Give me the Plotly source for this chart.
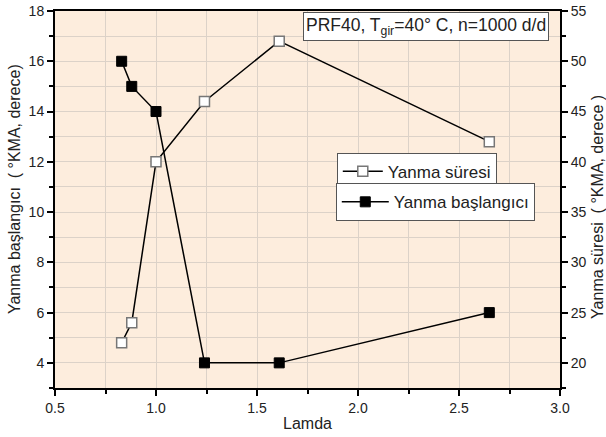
import plotly.graph_objects as go

lamda_sure = [0.83, 0.88, 1.0, 1.24, 1.61, 2.65]
yanma_suresi = [22, 24, 40, 46, 52, 42]
lamda_bas = [0.83, 0.88, 1.0, 1.24, 1.61, 2.65]
yanma_baslangici = [16, 15, 14, 4, 4, 6]

x_ticks = [0.5, 1.0, 1.5, 2.0, 2.5, 3.0]
x_ticklabels = ["0.5", "1.0", "1.5", "2.0", "2.5", "3.0"]

FONT = "Liberation Sans, Arial, sans-serif"
TXT = "#222"

fig = go.Figure()
fig.add_trace(go.Scatter(
    x=lamda_sure, y=yanma_suresi, yaxis="y2", name="Yanma süresi",
    mode="lines+markers", showlegend=True,
    line=dict(color="black", width=1.5),
    marker=dict(symbol="square", size=10, color="white", line=dict(color="#777777", width=1.5)),
    legend="legend",
))
fig.add_trace(go.Scatter(
    x=lamda_bas, y=yanma_baslangici, yaxis="y", name="Yanma başlangıcı",
    mode="lines+markers", showlegend=True,
    line=dict(color="black", width=1.5),
    marker=dict(symbol="square", size=10, color="black", line=dict(color="black", width=1)),
    legend="legend2",
))

axis_common = dict(
    showline=True, linecolor="black", linewidth=2, ticks="outside",
    tickcolor="black", tickwidth=1.5, ticklen=6,
    tickfont=dict(family=FONT, size=14, color=TXT),
    zeroline=False, automargin=False,
)

fig.update_layout(
    width=606, height=437,
    margin=dict(l=55, r=46, t=11, b=49),
    paper_bgcolor="white",
    plot_bgcolor="#FDEDDD",
    font=dict(family=FONT, color=TXT),
    showlegend=True,
    xaxis=dict(
        range=[0.5, 3.0], tickvals=x_ticks, ticktext=x_ticklabels,
        showgrid=True, gridcolor="#DCD2C8", gridwidth=1,
        minor=dict(dtick=0.25, tick0=0.5, ticks="outside", ticklen=4, tickcolor="black",
                   showgrid=True, gridcolor="#DCD2C8"),
        mirror=True,
        **axis_common,
    ),
    yaxis=dict(
        range=[3, 18], dtick=2, tick0=0,
        showgrid=True, gridcolor="#DCD2C8", gridwidth=1,
        minor=dict(dtick=1, tick0=0, ticks="outside", ticklen=4, tickcolor="black",
                   showgrid=True, gridcolor="#DCD2C8"),
        **axis_common,
    ),
    yaxis2=dict(
        range=[17.5, 55], dtick=5, tick0=0, overlaying="y", side="right",
        showgrid=False,
        minor=dict(dtick=2.5, tick0=0, ticks="outside", ticklen=4, tickcolor="black"),
        **axis_common,
    ),
    legend=dict(
        x=0.558, y=0.624, xanchor="left", yanchor="top",
        bgcolor="white", bordercolor="#555", borderwidth=1,
        font=dict(family=FONT, size=17, color=TXT),
        tracegroupgap=0, itemwidth=40,
    ),
    legend2=dict(
        x=0.556, y=0.543, xanchor="left", yanchor="top",
        bgcolor="white", bordercolor="#555", borderwidth=1,
        font=dict(family=FONT, size=17, color=TXT),
        tracegroupgap=0, itemwidth=47,
    ),
    annotations=[
        dict(
            xref="paper", yref="paper", x=0.978, y=0.997, xanchor="right", yanchor="top",
            text="PRF40, T<sub>gir</sub>=40° C, n=1000 d/d", showarrow=False,
            font=dict(family=FONT, size=17.5, color=TXT),
            bgcolor="white", bordercolor="#555", borderwidth=1, borderpad=2,
        ),
        dict(
            xref="paper", yref="paper", x=0.5, y=-0.093, xanchor="center", yanchor="middle",
            text="Lamda", showarrow=False, font=dict(family=FONT, size=16, color=TXT),
        ),
        dict(
            xref="paper", yref="paper", x=-0.079, y=0.528, xanchor="center", yanchor="middle",
            text="Yanma başlangıcı  ( °KMA, derece)", textangle=-90, showarrow=False,
            font=dict(family=FONT, size=16, color=TXT),
        ),
        dict(
            xref="paper", yref="paper", x=1.073, y=0.48, xanchor="center", yanchor="middle",
            text="Yanma süresi  ( °KMA, derece )", textangle=-90, showarrow=False,
            font=dict(family=FONT, size=16, color=TXT),
        ),
    ],
)

fig.write_html("out.html", config={"displayModeBar": False},
               post_script="document.body.style.margin='0';")
